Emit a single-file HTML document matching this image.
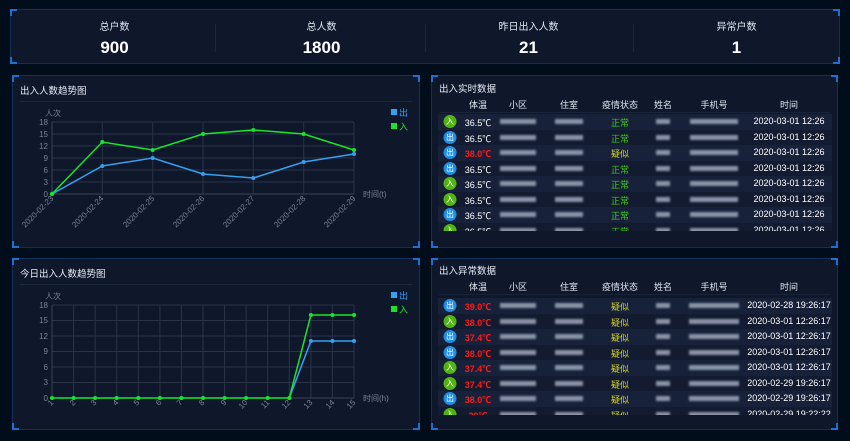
<!DOCTYPE html>
<html><head><meta charset="utf-8"><style>
*{margin:0;padding:0;box-sizing:border-box}
body{width:850px;height:441px;background:#020d1b;font-family:"Liberation Sans","Noto Sans CJK SC",sans-serif;color:#fff;position:relative;overflow:hidden}
.p{position:absolute;background:#0f172b;border:1px solid #12305a}
.c{position:absolute;width:7px;height:7px;border-color:#1f6fd0;border-style:solid}
.tl{left:-1px;top:-1px;border-width:2px 0 0 2px}.tr{right:-1px;top:-1px;border-width:2px 2px 0 0}
.bl{left:-1px;bottom:-1px;border-width:0 0 2px 2px}.br{right:-1px;bottom:-1px;border-width:0 2px 2px 0}
.st{position:absolute;top:8px;width:207px;text-align:center;font-size:10px;color:#dfe6f0}
.sn{position:absolute;top:28px;width:207px;text-align:center;font-size:17px;font-weight:bold}
.dv{position:absolute;top:14px;width:1px;height:28px;background:#1b2740}
.tt{position:absolute;left:7px;font-size:9.5px;color:#e6ecf5}
.sep{position:absolute;left:7px;right:7px;height:1px;background:#1c2740}
.tb{position:absolute;left:6px;width:394px;font-size:9px}
.hd{height:14px;position:relative;color:#dfe6f0}
.r{height:15.5px;position:relative}
.r:nth-child(odd){background:#17223a}.r:nth-child(even){background:#121b30}
.tb span{position:absolute;top:2px;white-space:nowrap;transform:translateX(-50%)}
.ic{width:13px;height:13px;border-radius:50%;font-size:8px;text-align:center;line-height:13px;top:1px!important}
.in{background:#52b412}.out{background:#1f8ee6}
.b{display:inline-block;height:5px;background:#8a93a8;filter:blur(1px);vertical-align:middle}
.g{color:#46c51a}.y{color:#d4d420}.red{color:#ff1a1a;font-weight:bold}
</style></head><body>
<div class="p" style="left:10px;top:9px;width:830px;height:55px">
<div class="c tl"></div><div class="c tr"></div><div class="c bl"></div><div class="c br"></div>
<div class="st" style="left:0">总户数</div><div class="sn" style="left:0">900</div>
<div class="dv" style="left:204px"></div>
<div class="st" style="left:207px">总人数</div><div class="sn" style="left:207px">1800</div>
<div class="dv" style="left:414px"></div>
<div class="st" style="left:414px">昨日出入人数</div><div class="sn" style="left:414px">21</div>
<div class="dv" style="left:622px"></div>
<div class="st" style="left:622px">异常户数</div><div class="sn" style="left:622px">1</div>
</div>

<div class="p" style="left:12px;top:75px;width:408px;height:173px"><div class="c tl"></div><div class="c tr"></div><div class="c bl"></div><div class="c br"></div>
<div class="tt" style="top:7px">出入人数趋势图</div><div class="sep" style="top:25px"></div></div>
<div class="p" style="left:12px;top:258px;width:408px;height:172px"><div class="c tl"></div><div class="c tr"></div><div class="c bl"></div><div class="c br"></div>
<div class="tt" style="top:7px">今日出入人数趋势图</div><div class="sep" style="top:25px"></div></div>

<svg style="position:absolute;left:0;top:0" width="850" height="441" font-family="Liberation Sans, Noto Sans CJK SC, sans-serif" font-size="8" fill="#7a8296">
<g stroke="#2a3348" stroke-width="1">
<line x1="52" y1="122" x2="354" y2="122"/><line x1="52" y1="134" x2="354" y2="134"/><line x1="52" y1="146" x2="354" y2="146"/><line x1="52" y1="158" x2="354" y2="158"/><line x1="52" y1="170" x2="354" y2="170"/><line x1="52" y1="182" x2="354" y2="182"/>
<line x1="102.3" y1="122" x2="102.3" y2="194"/><line x1="152.7" y1="122" x2="152.7" y2="194"/><line x1="203" y1="122" x2="203" y2="194"/><line x1="253.3" y1="122" x2="253.3" y2="194"/><line x1="303.7" y1="122" x2="303.7" y2="194"/><line x1="354" y1="122" x2="354" y2="194"/>
</g>
<line x1="52" y1="122" x2="52" y2="194" stroke="#3a4358"/><line x1="52" y1="194" x2="354" y2="194" stroke="#3a4358"/>
<g text-anchor="end"><text x="48" y="125">18</text><text x="48" y="137">15</text><text x="48" y="149">12</text><text x="48" y="161">9</text><text x="48" y="173">6</text><text x="48" y="185">3</text><text x="48" y="197">0</text>
<text transform="translate(54,199) rotate(-45)">2020-02-23</text><text transform="translate(104,199) rotate(-45)">2020-02-24</text><text transform="translate(155,199) rotate(-45)">2020-02-25</text><text transform="translate(205,199) rotate(-45)">2020-02-26</text><text transform="translate(255,199) rotate(-45)">2020-02-27</text><text transform="translate(306,199) rotate(-45)">2020-02-28</text><text transform="translate(356,199) rotate(-45)">2020-02-29</text></g>
<text x="45" y="116">人次</text><text x="363" y="197">时间(t)</text>
<polyline fill="none" stroke="#36a0f0" stroke-width="1.5" points="52,194 102.3,166 152.7,158 203,174 253.3,178 303.7,162 354,154"/>
<polyline fill="none" stroke="#18e52a" stroke-width="1.5" points="52,194 102.3,142 152.7,150 203,134 253.3,130 303.7,134 354,150"/>
<g fill="#36a0f0"><circle cx="102.3" cy="166" r="2"/><circle cx="152.7" cy="158" r="2"/><circle cx="203" cy="174" r="2"/><circle cx="253.3" cy="178" r="2"/><circle cx="303.7" cy="162" r="2"/><circle cx="354" cy="154" r="2"/></g>
<g fill="#18e52a"><circle cx="52" cy="194" r="2.2"/><circle cx="102.3" cy="142" r="2"/><circle cx="152.7" cy="150" r="2"/><circle cx="203" cy="134" r="2"/><circle cx="253.3" cy="130" r="2"/><circle cx="303.7" cy="134" r="2"/><circle cx="354" cy="150" r="2"/></g>
<rect x="391" y="109" width="6" height="6" fill="#36a0f0"/><text x="399" y="116" fill="#36a0f0" font-size="9">出</text>
<rect x="391" y="123" width="6" height="6" fill="#18e52a"/><text x="399" y="130" fill="#18e52a" font-size="9">入</text>

<g stroke="#2a3348">
<line x1="52" y1="305" x2="354" y2="305"/><line x1="52" y1="320.5" x2="354" y2="320.5"/><line x1="52" y1="336" x2="354" y2="336"/><line x1="52" y1="351.5" x2="354" y2="351.5"/><line x1="52" y1="367" x2="354" y2="367"/><line x1="52" y1="382.5" x2="354" y2="382.5"/>
<line x1="73.6" y1="305" x2="73.6" y2="398"/><line x1="95.1" y1="305" x2="95.1" y2="398"/><line x1="116.7" y1="305" x2="116.7" y2="398"/><line x1="138.3" y1="305" x2="138.3" y2="398"/><line x1="159.9" y1="305" x2="159.9" y2="398"/><line x1="181.4" y1="305" x2="181.4" y2="398"/><line x1="203" y1="305" x2="203" y2="398"/><line x1="224.6" y1="305" x2="224.6" y2="398"/><line x1="246.1" y1="305" x2="246.1" y2="398"/><line x1="267.7" y1="305" x2="267.7" y2="398"/><line x1="289.3" y1="305" x2="289.3" y2="398"/><line x1="310.9" y1="305" x2="310.9" y2="398"/><line x1="332.4" y1="305" x2="332.4" y2="398"/><line x1="354" y1="305" x2="354" y2="398"/>
</g>
<line x1="52" y1="305" x2="52" y2="398" stroke="#3a4358"/><line x1="52" y1="398" x2="354" y2="398" stroke="#3a4358"/>
<g text-anchor="end"><text x="48" y="308">18</text><text x="48" y="323">15</text><text x="48" y="339">12</text><text x="48" y="354">9</text><text x="48" y="370">6</text><text x="48" y="385">3</text><text x="48" y="401">0</text>
<text transform="translate(54,403) rotate(-45)">1</text><text transform="translate(76,403) rotate(-45)">2</text><text transform="translate(97,403) rotate(-45)">3</text><text transform="translate(119,403) rotate(-45)">4</text><text transform="translate(140,403) rotate(-45)">5</text><text transform="translate(162,403) rotate(-45)">6</text><text transform="translate(183,403) rotate(-45)">7</text><text transform="translate(205,403) rotate(-45)">8</text><text transform="translate(227,403) rotate(-45)">9</text><text transform="translate(248,403) rotate(-45)">10</text><text transform="translate(270,403) rotate(-45)">11</text><text transform="translate(291,403) rotate(-45)">12</text><text transform="translate(313,403) rotate(-45)">13</text><text transform="translate(335,403) rotate(-45)">14</text><text transform="translate(356,403) rotate(-45)">15</text></g>
<text x="45" y="299">人次</text><text x="363" y="401">时间(h)</text>
<polyline fill="none" stroke="#36a0f0" stroke-width="1.5" points="289.3,398 310.9,341 332.4,341 354,341"/>
<polyline fill="none" stroke="#18e52a" stroke-width="1.5" points="52,398 289.3,398 310.9,315 332.4,315 354,315"/>
<g fill="#36a0f0"><circle cx="310.9" cy="341" r="2"/><circle cx="332.4" cy="341" r="2"/><circle cx="354" cy="341" r="2"/></g>
<g fill="#18e52a"><circle cx="52" cy="398" r="2"/><circle cx="73.6" cy="398" r="2"/><circle cx="95.1" cy="398" r="2"/><circle cx="116.7" cy="398" r="2"/><circle cx="138.3" cy="398" r="2"/><circle cx="159.9" cy="398" r="2"/><circle cx="181.4" cy="398" r="2"/><circle cx="203" cy="398" r="2"/><circle cx="224.6" cy="398" r="2"/><circle cx="246.1" cy="398" r="2"/><circle cx="267.7" cy="398" r="2"/><circle cx="289.3" cy="398" r="2"/><circle cx="310.9" cy="315" r="2"/><circle cx="332.4" cy="315" r="2"/><circle cx="354" cy="315" r="2"/></g>
<rect x="391" y="292" width="6" height="6" fill="#36a0f0"/><text x="399" y="299" fill="#36a0f0" font-size="9">出</text>
<rect x="391" y="306" width="6" height="6" fill="#18e52a"/><text x="399" y="313" fill="#18e52a" font-size="9">入</text>
</svg>

<div class="p" style="left:431px;top:75px;width:407px;height:173px"><div class="c tl"></div><div class="c tr"></div><div class="c bl"></div><div class="c br"></div>
<div class="tt" style="top:5px">出入实时数据</div>
<div class="tb" style="top:20px">
<div class="hd"><span style="left:40px">体温</span><span style="left:80px">小区</span><span style="left:131px">住室</span><span style="left:182px">疫情状态</span><span style="left:225px">姓名</span><span style="left:276px">手机号</span><span style="left:351px">时间</span></div>
</div>
<div class="sep" style="top:36px;background:#1a2438"></div>
<div class="tb" style="top:38px;height:117px;overflow:hidden">
<div class="r"><span class="ic in" style="left:12px">入</span><span style="left:40px">36.5℃</span><span style="left:80px"><i class="b" style="width:36px"></i></span><span style="left:131px"><i class="b" style="width:28px"></i></span><span class="g" style="left:182px">正常</span><span style="left:225px"><i class="b" style="width:14px"></i></span><span style="left:276px"><i class="b" style="width:48px"></i></span><span style="left:351px">2020-03-01 12:26</span></div>
<div class="r"><span class="ic out" style="left:12px">出</span><span style="left:40px">36.5℃</span><span style="left:80px"><i class="b" style="width:36px"></i></span><span style="left:131px"><i class="b" style="width:28px"></i></span><span class="g" style="left:182px">正常</span><span style="left:225px"><i class="b" style="width:14px"></i></span><span style="left:276px"><i class="b" style="width:48px"></i></span><span style="left:351px">2020-03-01 12:26</span></div>
<div class="r"><span class="ic out" style="left:12px">出</span><span class="red" style="left:40px">38.0℃</span><span style="left:80px"><i class="b" style="width:36px"></i></span><span style="left:131px"><i class="b" style="width:28px"></i></span><span class="y" style="left:182px">疑似</span><span style="left:225px"><i class="b" style="width:14px"></i></span><span style="left:276px"><i class="b" style="width:48px"></i></span><span style="left:351px">2020-03-01 12:26</span></div>
<div class="r"><span class="ic out" style="left:12px">出</span><span style="left:40px">36.5℃</span><span style="left:80px"><i class="b" style="width:36px"></i></span><span style="left:131px"><i class="b" style="width:28px"></i></span><span class="g" style="left:182px">正常</span><span style="left:225px"><i class="b" style="width:14px"></i></span><span style="left:276px"><i class="b" style="width:48px"></i></span><span style="left:351px">2020-03-01 12:26</span></div>
<div class="r"><span class="ic in" style="left:12px">入</span><span style="left:40px">36.5℃</span><span style="left:80px"><i class="b" style="width:36px"></i></span><span style="left:131px"><i class="b" style="width:28px"></i></span><span class="g" style="left:182px">正常</span><span style="left:225px"><i class="b" style="width:14px"></i></span><span style="left:276px"><i class="b" style="width:48px"></i></span><span style="left:351px">2020-03-01 12:26</span></div>
<div class="r"><span class="ic in" style="left:12px">入</span><span style="left:40px">36.5℃</span><span style="left:80px"><i class="b" style="width:36px"></i></span><span style="left:131px"><i class="b" style="width:28px"></i></span><span class="g" style="left:182px">正常</span><span style="left:225px"><i class="b" style="width:14px"></i></span><span style="left:276px"><i class="b" style="width:48px"></i></span><span style="left:351px">2020-03-01 12:26</span></div>
<div class="r"><span class="ic out" style="left:12px">出</span><span style="left:40px">36.5℃</span><span style="left:80px"><i class="b" style="width:36px"></i></span><span style="left:131px"><i class="b" style="width:28px"></i></span><span class="g" style="left:182px">正常</span><span style="left:225px"><i class="b" style="width:14px"></i></span><span style="left:276px"><i class="b" style="width:48px"></i></span><span style="left:351px">2020-03-01 12:26</span></div>
<div class="r"><span class="ic in" style="left:12px">入</span><span style="left:40px">36.5℃</span><span style="left:80px"><i class="b" style="width:36px"></i></span><span style="left:131px"><i class="b" style="width:28px"></i></span><span class="g" style="left:182px">正常</span><span style="left:225px"><i class="b" style="width:14px"></i></span><span style="left:276px"><i class="b" style="width:48px"></i></span><span style="left:351px">2020-03-01 12:26</span></div>
</div></div>

<div class="p" style="left:431px;top:258px;width:407px;height:172px"><div class="c tl"></div><div class="c tr"></div><div class="c bl"></div><div class="c br"></div>
<div class="tt" style="top:4px">出入异常数据</div>
<div class="tb" style="top:19px">
<div class="hd"><span style="left:40px">体温</span><span style="left:80px">小区</span><span style="left:131px">住室</span><span style="left:182px">疫情状态</span><span style="left:225px">姓名</span><span style="left:276px">手机号</span><span style="left:351px">时间</span></div>
</div>
<div class="sep" style="top:35px;background:#1a2438"></div>
<div class="tb" style="top:39px;height:117px;overflow:hidden">
<div class="r"><span class="ic out" style="left:12px">出</span><span class="red" style="left:40px">39.0℃</span><span style="left:80px"><i class="b" style="width:36px"></i></span><span style="left:131px"><i class="b" style="width:28px"></i></span><span class="y" style="left:182px">疑似</span><span style="left:225px"><i class="b" style="width:14px"></i></span><span style="left:276px"><i class="b" style="width:50px"></i></span><span style="left:351px">2020-02-28 19:26:17</span></div>
<div class="r"><span class="ic in" style="left:12px">入</span><span class="red" style="left:40px">38.0℃</span><span style="left:80px"><i class="b" style="width:36px"></i></span><span style="left:131px"><i class="b" style="width:28px"></i></span><span class="y" style="left:182px">疑似</span><span style="left:225px"><i class="b" style="width:14px"></i></span><span style="left:276px"><i class="b" style="width:50px"></i></span><span style="left:351px">2020-03-01 12:26:17</span></div>
<div class="r"><span class="ic out" style="left:12px">出</span><span class="red" style="left:40px">37.4℃</span><span style="left:80px"><i class="b" style="width:36px"></i></span><span style="left:131px"><i class="b" style="width:28px"></i></span><span class="y" style="left:182px">疑似</span><span style="left:225px"><i class="b" style="width:14px"></i></span><span style="left:276px"><i class="b" style="width:50px"></i></span><span style="left:351px">2020-03-01 12:26:17</span></div>
<div class="r"><span class="ic out" style="left:12px">出</span><span class="red" style="left:40px">38.0℃</span><span style="left:80px"><i class="b" style="width:36px"></i></span><span style="left:131px"><i class="b" style="width:28px"></i></span><span class="y" style="left:182px">疑似</span><span style="left:225px"><i class="b" style="width:14px"></i></span><span style="left:276px"><i class="b" style="width:50px"></i></span><span style="left:351px">2020-03-01 12:26:17</span></div>
<div class="r"><span class="ic in" style="left:12px">入</span><span class="red" style="left:40px">37.4℃</span><span style="left:80px"><i class="b" style="width:36px"></i></span><span style="left:131px"><i class="b" style="width:28px"></i></span><span class="y" style="left:182px">疑似</span><span style="left:225px"><i class="b" style="width:14px"></i></span><span style="left:276px"><i class="b" style="width:50px"></i></span><span style="left:351px">2020-03-01 12:26:17</span></div>
<div class="r"><span class="ic in" style="left:12px">入</span><span class="red" style="left:40px">37.4℃</span><span style="left:80px"><i class="b" style="width:36px"></i></span><span style="left:131px"><i class="b" style="width:28px"></i></span><span class="y" style="left:182px">疑似</span><span style="left:225px"><i class="b" style="width:14px"></i></span><span style="left:276px"><i class="b" style="width:50px"></i></span><span style="left:351px">2020-02-29 19:26:17</span></div>
<div class="r"><span class="ic out" style="left:12px">出</span><span class="red" style="left:40px">38.0℃</span><span style="left:80px"><i class="b" style="width:36px"></i></span><span style="left:131px"><i class="b" style="width:28px"></i></span><span class="y" style="left:182px">疑似</span><span style="left:225px"><i class="b" style="width:14px"></i></span><span style="left:276px"><i class="b" style="width:50px"></i></span><span style="left:351px">2020-02-29 19:26:17</span></div>
<div class="r"><span class="ic in" style="left:12px">入</span><span class="red" style="left:40px">39℃</span><span style="left:80px"><i class="b" style="width:36px"></i></span><span style="left:131px"><i class="b" style="width:28px"></i></span><span class="y" style="left:182px">疑似</span><span style="left:225px"><i class="b" style="width:14px"></i></span><span style="left:276px"><i class="b" style="width:50px"></i></span><span style="left:351px">2020-02-29 19:22:22</span></div>
</div></div>
</body></html>
